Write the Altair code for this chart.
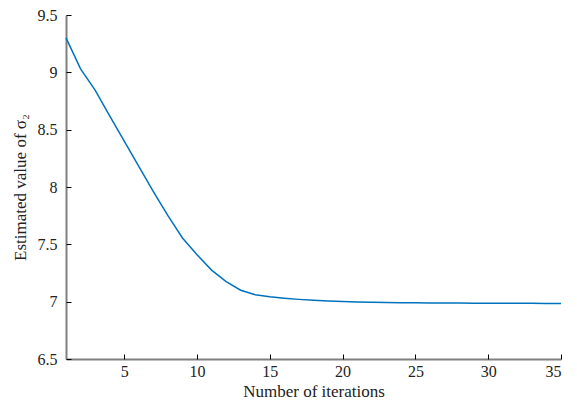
import altair as alt
import pandas as pd

iterations = list(range(1, 36))
sigma2 = [9.30, 9.03, 8.845, 8.62, 8.40, 8.18, 7.96, 7.75, 7.555, 7.41,
          7.275, 7.175, 7.10, 7.06, 7.042, 7.03, 7.02, 7.012, 7.006, 7.002,
          6.998, 6.995, 6.993, 6.991, 6.99, 6.989, 6.988, 6.988, 6.987, 6.987,
          6.986, 6.986, 6.986, 6.985, 6.985]
x_ticks = [5, 10, 15, 20, 25, 30, 35]
y_ticks = [6.5, 7, 7.5, 8, 8.5, 9, 9.5]

df = pd.DataFrame({"iter": iterations, "val": sigma2})

W, H = 495, 344
FONT = "Liberation Serif"

xs = alt.Scale(domain=[1, 35], nice=False, zero=False)
ys = alt.Scale(domain=[6.5, 9.5], nice=False, zero=False)

base = alt.Chart(df)

line = base.mark_line(color="#0072BD", strokeWidth=1.5).encode(
    x=alt.X("iter:Q", scale=xs, axis=alt.Axis(
        orient="bottom", values=x_ticks, ticks=False, labelPadding=4,
        domainColor="#808080", domainWidth=2, grid=False,
        labelFontSize=16, labelColor="#222",
        title="Number of iterations", titleFontSize=17,
        titleFontWeight="normal", titleColor="#222",
        titleBaseline="middle", titleY=32)),
    y=alt.Y("val:Q", scale=ys, axis=alt.Axis(
        orient="left", values=y_ticks, ticks=False, labelPadding=9,
        format="~g", domainColor="#808080", domainWidth=2, grid=False,
        labelFontSize=16, labelColor="#222",
        title="Estimated value of σ₂", titleFontSize=17,
        titleFontWeight="normal", titleColor="#222",
        titleBaseline="middle", titleX=-46)),
)

tick_layer = base.mark_line(opacity=0).encode(
    x=alt.X("iter:Q", scale=xs, axis=alt.Axis(
        orient="top", offset=-H, values=x_ticks, labels=False, domain=False,
        ticks=True, tickSize=5, tickColor="black", tickWidth=1, grid=False,
        title=None)),
    y=alt.Y("val:Q", scale=ys, axis=alt.Axis(
        orient="right", offset=-W, values=y_ticks, labels=False, domain=False,
        ticks=True, tickSize=5, tickColor="black", tickWidth=1, grid=False,
        title=None)),
)

chart = alt.layer(line, tick_layer).resolve_axis(
    x="independent", y="independent"
).properties(
    width=W, height=H,
    autosize=alt.AutoSizeParams(type="none"),
    padding={"left": 58, "top": 7, "right": 8, "bottom": 45},
).configure(font=FONT).configure_view(stroke=None)

chart.save("out.html", embed_options={"renderer": "svg", "actions": False})
